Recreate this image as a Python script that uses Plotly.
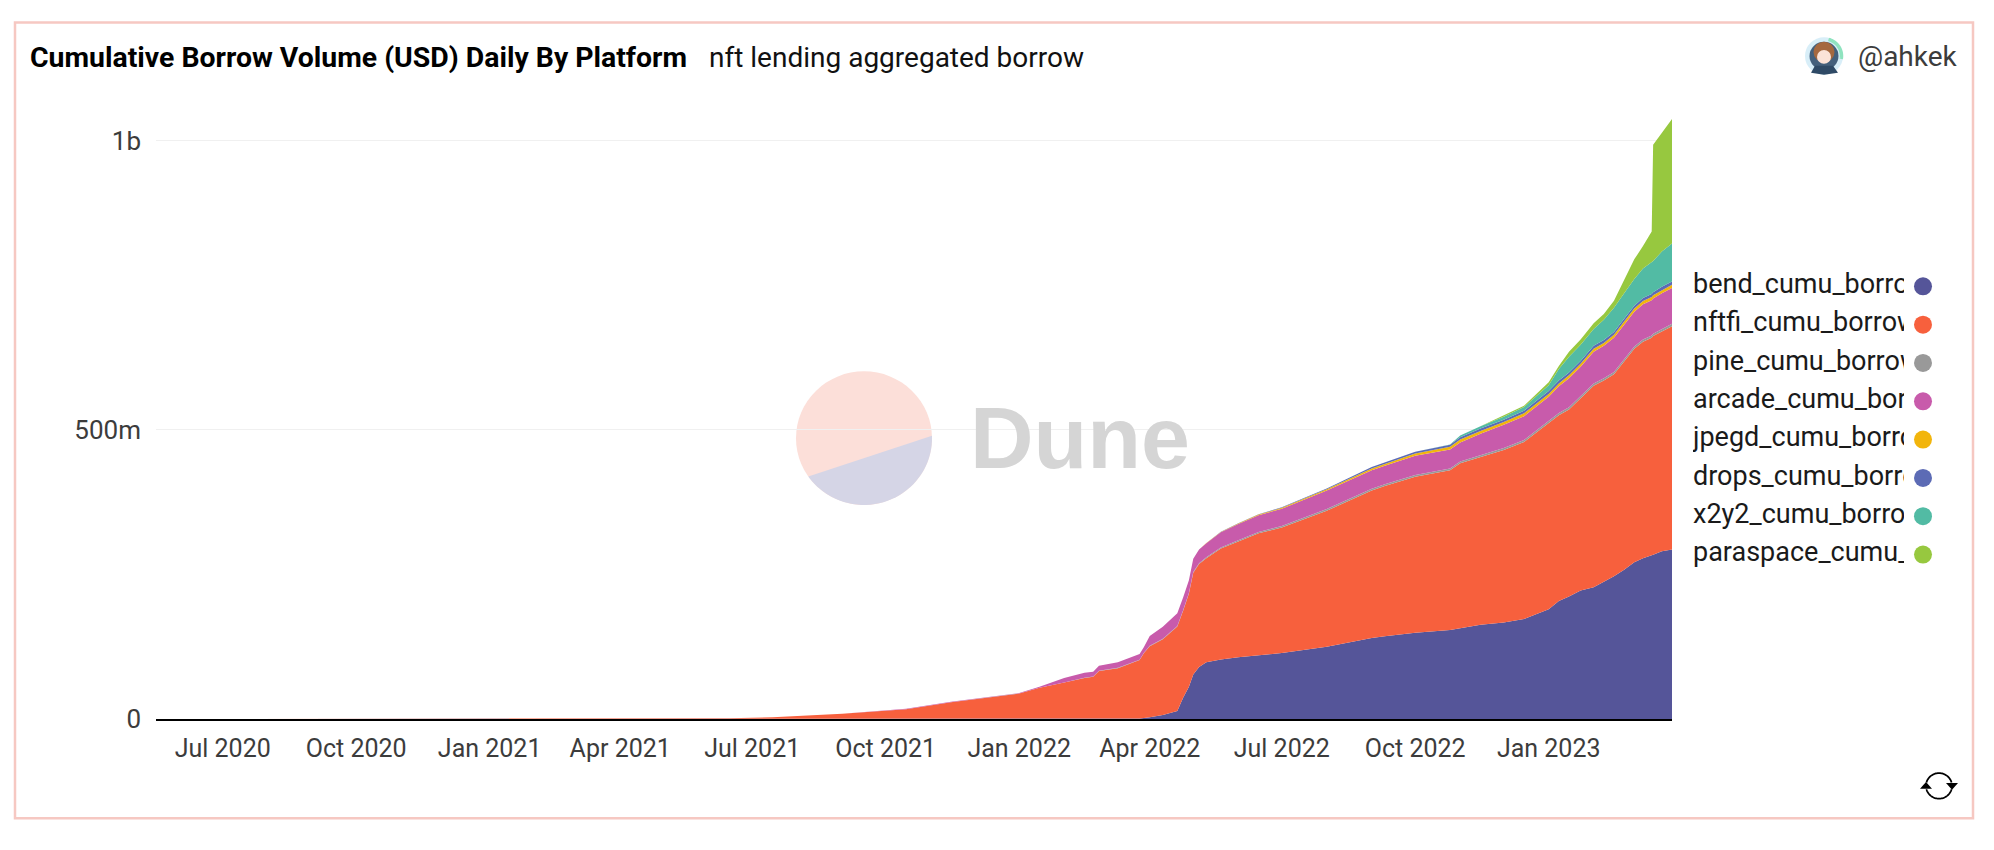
import numpy as np
import plotly.graph_objects as go

# canvas size of the page, everything decorative is placed in pixels
W, H = 1994, 850

dates = [
    "2020-05-16", "2020-07-01", "2021-01-01", "2021-04-01", "2021-06-15", "2021-07-15", "2021-09-01",
    "2021-10-15", "2021-11-15", "2022-01-01", "2022-01-15", "2022-02-01", "2022-02-15", "2022-02-21",
    "2022-02-25", "2022-03-10", "2022-03-25", "2022-03-28", "2022-04-01", "2022-04-10", "2022-04-20",
    "2022-04-24", "2022-04-28", "2022-05-01", "2022-05-05", "2022-05-10", "2022-05-20", "2022-06-01",
    "2022-06-15", "2022-07-01", "2022-08-01", "2022-09-01", "2022-09-10", "2022-10-01", "2022-10-25",
    "2022-11-01", "2022-11-15", "2022-12-01", "2022-12-15", "2023-01-01", "2023-01-08", "2023-01-15",
    "2023-01-23", "2023-02-01", "2023-02-08", "2023-02-15", "2023-02-22", "2023-03-01", "2023-03-07",
    "2023-03-13", "2023-03-14", "2023-03-20", "2023-03-27",
]

# values in millions of USD
bend = [0, 0, 0, 0, 0, 0, 0, 0, 0, 0, 0, 0, 0, 0, 0, 0, 1, 2, 3, 7, 14, 37, 56, 77, 90, 98,
        103, 107, 110, 114, 125, 140, 143, 149, 154, 157, 163, 167, 173, 190, 204, 212, 222, 228, 237, 247,
        258, 271, 278, 282, 284, 290, 293]
nftfi = [0.02, 0.05, 0.2, 0.5, 1.5, 3, 9, 17, 29, 44, 54, 63, 71, 73, 83, 88, 101, 112, 123, 131, 146, 150,
         161, 176, 178, 180, 192, 200, 211, 217, 235, 255, 260, 270, 276, 285, 290, 298, 306, 321, 321, 323,
         332, 348, 348, 349, 360, 369, 374, 377, 378, 380, 386]
pine = [0, 0, 0, 0, 0, 0.05, 0.1, 0.2, 0.2, 0.3, 0.3, 0.3, 0.4, 0.4, 0.4, 0.5, 0.5, 0.5, 0.6, 0.7, 0.8, 0.9,
        1, 1, 1.2, 1.5, 1.7, 2, 2.2, 2.5, 3, 3, 3, 3, 3, 3, 3, 3.5, 3.5, 4, 4, 4, 4, 4, 4, 4, 4, 4, 4, 4, 4, 4, 4]
arcade = [0, 0, 0, 0, 0.1, 0.2, 0.3, 0.5, 0.6, 0.7, 1.7, 7.7, 8.6, 8.6, 8.6, 9.5, 10, 10, 17, 21, 22, 22, 22,
          23, 24, 24.5, 26, 28, 29, 30, 32, 32, 32, 33, 33, 33, 37, 40, 41, 42, 46, 50, 51, 55, 56, 59, 60, 60,
          61, 61, 61, 62, 62]
jpegd = [0, 0, 0, 0, 0, 0, 0, 0, 0, 0, 0, 0, 0, 0, 0, 0, 0, 0, 0, 0, 0, 0, 0, 0, 0, 0.5,
         0.7, 1, 1.2, 1.5, 2, 3, 3, 4, 4.5, 5, 5, 5, 5, 5, 5, 5, 5, 5, 5, 5, 5, 5.5, 5.5, 5.5, 5.5, 5.5, 5.5]
drops = [0, 0, 0, 0, 0, 0, 0, 0, 0, 0, 0, 0, 0, 0, 0, 0, 0, 0, 0, 0, 0, 0, 0, 0, 0, 0,
         0.2, 0.5, 0.7, 1, 1.5, 2.5, 2.5, 3, 3.5, 4, 4, 4, 4.5, 5, 5, 5, 5, 5, 5, 5, 5, 5, 5, 5, 5, 5.5, 5.5]
x2y2 = [0, 0, 0, 0, 0, 0, 0, 0, 0, 0, 0, 0, 0, 0, 0, 0, 0, 0, 0, 0, 0, 0, 0, 0, 0, 0,
        0, 0, 0, 0, 0, 0, 0, 0, 0.5, 3, 4, 5, 6.5, 10, 20, 27, 28, 29, 35, 42, 44, 46, 51, 54, 54, 61, 66]
paraspace = [0, 0, 0, 0, 0, 0, 0, 0, 0, 0, 0, 0, 0, 0, 0, 0, 0, 0, 0, 0, 0, 0, 0, 0, 0, 0,
             0, 0, 0, 0, 0, 0, 0, 0, 0, 0, 0, 2, 2, 5, 5, 9, 9, 10, 10, 12, 22, 34, 39, 54, 201, 205, 215]

series_names = ["bend_cumu_borrow", "nftfi_cumu_borrow", "pine_cumu_borrow", "arcade_cumu_borrow",
                "jpegd_cumu_borrow", "drops_cumu_borrow", "x2y2_cumu_borrow", "paraspace_cumu_borrow"]
series_values = [bend, nftfi, pine, arcade, jpegd, drops, x2y2, paraspace]
series_colors = ["#555599", "#f7603d", "#999999", "#c85bab", "#f2b50c", "#5c6bb5", "#52bba4", "#97c83f"]

y_ticks = [0, 500e6, 1e9]
y_labels = ["0", "500m", "1b"]
x_ticks = ["2020-07-01", "2020-10-01", "2021-01-01", "2021-04-01", "2021-07-01", "2021-10-01",
           "2022-01-01", "2022-04-01", "2022-07-01", "2022-10-01", "2023-01-01"]
x_labels = ["Jul 2020", "Oct 2020", "Jan 2021", "Apr 2021", "Jul 2021", "Oct 2021",
            "Jan 2022", "Apr 2022", "Jul 2022", "Oct 2022", "Jan 2023"]

FONT = "Roboto"


def px(x):
    return x / W


def py(y):
    return 1 - y / H


def poly(points, closed=True):
    # svg path in paper coordinates from pixel points
    s = "M " + " L ".join(f"{px(a):.5f},{py(b):.5f}" for a, b in points)
    return s + " Z" if closed else s


def arc(cx, cy, r, a0, a1, n=40):
    # angles in degrees, clockwise from east on screen
    t = np.radians(np.linspace(a0, a1, n))
    return [(cx + r * np.cos(v), cy + r * np.sin(v)) for v in t]


def circle(cx, cy, r, fill, layer="above"):
    return dict(type="circle", xref="paper", yref="paper", x0=px(cx - r), x1=px(cx + r),
                y0=py(cy + r), y1=py(cy - r), fillcolor=fill, line_width=0, layer=layer)


fig = go.Figure()

# stacked areas, fill only so nothing tints the baseline
for name, vals, color in zip(series_names, series_values, series_colors):
    fig.add_trace(go.Scatter(
        x=dates, y=[v * 1e6 for v in vals], name=name, mode="lines", stackgroup="one",
        line=dict(width=0, color=color), fillcolor=color, showlegend=False,
    ))

# legend: names clipped by their own axis box, dots to the right of them
rows = list(range(len(series_names)))
fig.add_trace(go.Scatter(
    x=[0] * len(rows), y=rows, xaxis="x2", yaxis="y2", mode="text", text=series_names,
    textposition="middle right", textfont=dict(family=FONT, size=27, color="#1a1a1a"),
    showlegend=False, hoverinfo="skip", cliponaxis=True,
))
fig.add_trace(go.Scatter(
    x=[0.5] * len(rows), y=rows, xaxis="x3", yaxis="y2", mode="markers",
    marker=dict(size=18, color=series_colors), showlegend=False, hoverinfo="skip",
))

annotations = [
    dict(x=px(28), y=py(59), text="<b>Cumulative Borrow Volume (USD) Daily By Platform</b>",
         font=dict(family=FONT, size=28.4, color="#000000")),
    dict(x=px(707), y=py(59), text="nft lending aggregated borrow",
         font=dict(family=FONT, size=28, color="#111111")),
    dict(x=px(1856), y=py(58), text="@ahkek", font=dict(family=FONT, size=28, color="#3c3c3c")),
    dict(x=px(968), y=py(445), text="<b>Dune</b>",
         font=dict(family="Liberation Sans", size=88, color="#d5d5d5")),
]
for a in annotations:
    a.update(xref="paper", yref="paper", xanchor="left", yanchor="middle", showarrow=False)

shapes = [
    # card border
    dict(type="rect", xref="paper", yref="paper", x0=px(15), x1=px(1973), y0=py(833), y1=py(23),
         line=dict(color="#f6c8c2", width=2.5), layer="below"),
    # dune logo, a disc cut by a chord
    circle(864, 446, 68, "#fcdfd9", layer="below"),
    dict(type="path", xref="paper", yref="paper", path=poly(arc(864, 446, 68, -2, 145)),
         fillcolor="#d5d5e6", line_width=0, layer="below"),
    # avatar
    circle(1824, 57, 19, "#d8eef8"),
    dict(type="path", xref="paper", yref="paper", path=poly(arc(1824, 57, 17.5, -75, 10), closed=False),
         line=dict(color="#8fe3bf", width=3.5), layer="above"),
    circle(1824, 57, 14.5, "#44607c"),
    circle(1824, 53, 10.5, "#a5683f"),
    circle(1824, 58, 7, "#fbe3d8"),
    dict(type="path", xref="paper", yref="paper",
         path=poly([(1811, 74), (1815, 67), (1833, 67), (1838, 74), (1824, 76)]),
         fillcolor="#2f4a66", line_width=0, layer="above"),
    # refresh icon
    dict(type="path", xref="paper", yref="paper", path=poly(arc(1939, 800, 13, -165, -15), closed=False),
         line=dict(color="#000000", width=1.8), layer="above"),
    dict(type="path", xref="paper", yref="paper", path=poly(arc(1939, 800, 13, 15, 165), closed=False),
         line=dict(color="#000000", width=1.8), layer="above"),
    dict(type="path", xref="paper", yref="paper", path=poly([(1946, 797), (1958, 797), (1952, 804)]),
         fillcolor="#000000", line_width=0, layer="above"),
    dict(type="path", xref="paper", yref="paper", path=poly([(1920, 803), (1932, 803), (1926, 796)]),
         fillcolor="#000000", line_width=0, layer="above"),
]

fig.update_layout(
    width=W, height=H,
    margin=dict(l=0, r=0, t=0, b=0),
    paper_bgcolor="white", plot_bgcolor="rgba(0,0,0,0)",
    annotations=annotations, shapes=shapes, showlegend=False,
    xaxis=dict(
        domain=[px(156), px(1672)], range=["2020-05-16", "2023-03-27"], type="date",
        tickvals=x_ticks, ticktext=x_labels, showgrid=False, zeroline=False,
        showline=True, linecolor="#000000", linewidth=2, ticks="",
        ticklabelstandoff=6, tickfont=dict(family=FONT, size=25, color="#3c3c3c"),
    ),
    yaxis=dict(
        domain=[py(732), py(119.4)], range=[0, 1.04e9],
        tickvals=y_ticks, ticktext=y_labels, showgrid=True, gridcolor="#f0f0f0", gridwidth=1,
        zeroline=False, showline=False, ticks="",
        ticklabelstandoff=14, tickfont=dict(family=FONT, size=26, color="#3c3c3c"),
    ),
    xaxis2=dict(domain=[px(1693), px(1904)], range=[0, 1], visible=False, anchor="y2"),
    yaxis2=dict(domain=[py(584), py(272)], range=[7.5, -0.5], visible=False, anchor="x2"),
    xaxis3=dict(domain=[px(1912), px(1934)], range=[0, 1], visible=False, anchor="y2"),
)

fig.write_html("out.html", config=dict(displayModeBar=False),
               post_script="document.body.style.margin='0';document.body.style.overflow='hidden';")
